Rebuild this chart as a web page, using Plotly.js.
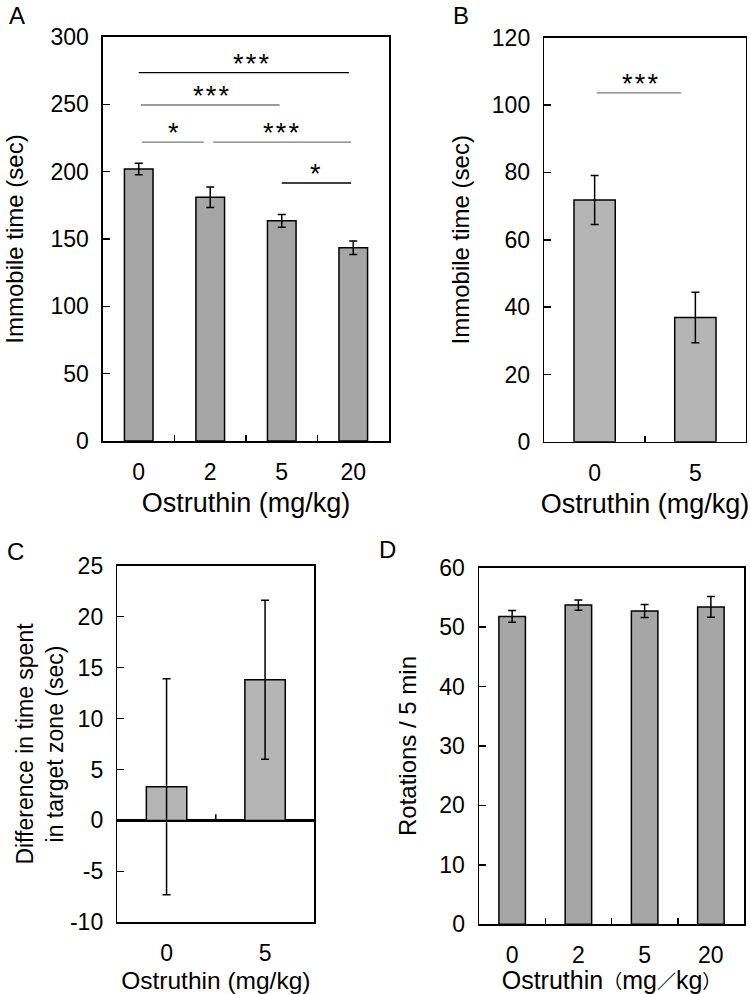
<!DOCTYPE html>
<html>
<head>
<meta charset="utf-8">
<script src="https://cdn.plot.ly/plotly-3.0.1.min.js"></script>
<style>html,body{margin:0;padding:0;background:#fff;}#chart{width:750px;height:994px;}</style>
</head>
<body>
<div id="chart"></div>
<script>
// ---- Data ----
const doseA = ['0', '2', '5', '20'];
const immobileA = [202, 181, 163.5, 143.5];
const errA = [4.2, 7.6, 4.7, 5.0];

const doseB = ['0', '5'];
const immobileB = [71.8, 36.9];
const errB = [7.3, 7.5];

const doseC = ['0', '5'];
const diffC = [3.3, 13.8];
const errC = [10.6, 7.8];

const doseD = ['0', '2', '5', '20'];
const rotationsD = [51.8, 53.7, 52.7, 53.4];
const errD = [1.0, 0.85, 1.1, 1.75];

// y tick labels of panel C (hyphen minus, as printed)
const tickvalsC = [-10, -5, 0, 5, 10, 15, 20, 25];
const ticktextC = ['-10', '-5', '0', '5', '10', '15', '20', '25'];

// significance brackets
const sigA = [
  {x0: 0.0, x1: 2.94, y: 273.5, text: '***', tx: 1.58, color: '#000'},
  {x0: 0.03, x1: 1.97, y: 249.5, text: '***', tx: 1.02, color: '#7a7a7a'},
  {x0: 0.045, x1: 0.91, y: 222, text: '*', tx: 0.48, color: '#7a7a7a'},
  {x0: 1.04, x1: 2.97, y: 222, text: '***', tx: 1.99, color: '#7a7a7a'},
  {x0: 2.0, x1: 2.97, y: 191.6, text: '*', tx: 2.47, color: '#000'}
];
const sigB = [
  {x0: 0.02, x1: 0.86, y: 103.6, text: '***', tx: 0.457, color: '#7a7a7a'}
];

// ---- Styling ----
const FONT = 'Liberation Sans, Arial, Noto Sans CJK JP, sans-serif';
const darkGray = '#a6a6a6';
const lightGray = '#b5b5b5';

function barTrace(x, y, err, color, width, xa, ya) {
  return {
    type: 'bar', x: x, y: y, xaxis: xa, yaxis: ya,
    width: width,
    marker: {color: color, line: {color: '#000', width: 1.5}},
    error_y: {type: 'data', array: err, visible: true, color: '#000', thickness: 1.5, width: 4},
    showlegend: false, hoverinfo: 'x+y'
  };
}

const traces = [
  barTrace(doseA, immobileA, errA, darkGray, 0.4, 'x', 'y'),
  barTrace(doseB, immobileB, errB, lightGray, 0.41, 'x2', 'y2'),
  barTrace(doseC, diffC, errC, lightGray, 0.41, 'x3', 'y3'),
  barTrace(doseD, rotationsD, errD, darkGray, 0.4, 'x4', 'y4')
];

function xAxis(domain, anchor, n, title, tsize, extra) {
  return Object.assign({
    domain: domain, anchor: anchor, type: 'category',
    range: [-0.5, n - 0.5],
    showline: true, linecolor: '#000', linewidth: 1.5, mirror: true,
    ticks: 'inside', tickson: 'boundaries', ticklen: 6, tickwidth: 1.5, tickcolor: '#000',
    showgrid: false, zeroline: false,
    tickfont: {family: FONT, size: 23, color: '#000'},
    ticklabelstandoff: 10,
    title: {text: title, font: {family: FONT, size: tsize, color: '#000'}, standoff: 9},
    fixedrange: true
  }, extra || {});
}
function yAxis(domain, anchor, range, dtick, title, tsize, standoff, extra) {
  return Object.assign({
    domain: domain, anchor: anchor, range: range, dtick: dtick,
    showline: true, linecolor: '#000', linewidth: 1.5, mirror: true,
    ticks: 'inside', ticklen: 7, tickwidth: 1.5, tickcolor: '#000',
    showgrid: false, zeroline: false,
    tickfont: {family: FONT, size: 23, color: '#000'},
    ticklabelstandoff: 8,
    title: {text: title, font: {family: FONT, size: tsize, color: '#000'}, standoff: standoff},
    fixedrange: true
  }, extra || {});
}

const shapes = [];
const annotations = [];
function addSig(list, xa, ya) {
  list.forEach(s => {
    shapes.push({type: 'line', xref: xa, yref: ya, x0: s.x0, x1: s.x1, y0: s.y, y1: s.y,
      line: {color: s.color, width: 1.3}});
    annotations.push({xref: xa, yref: ya, x: s.tx, y: s.y, text: s.text.split('').join('\u200A'),
      showarrow: false, yanchor: 'bottom', yshift: -8,
      font: {family: FONT, size: 27, color: '#000'}});
  });
}
addSig(sigA, 'x', 'y');
addSig(sigB, 'x2', 'y2');

// tick between categories in panel C sits on the zero line
shapes.push({type: 'line', xref: 'x3', yref: 'y3', x0: 0.5, x1: 0.5, y0: 0, y1: 0.6,
  line: {color: '#000', width: 1.5}});

// panel letters
[['A', 0.023, 0.984], ['B', 0.615, 0.984], ['C', 0.02, 0.445], ['D', 0.517, 0.447]].forEach(p => {
  annotations.push({xref: 'paper', yref: 'paper', x: p[1], y: p[2], text: p[0], showarrow: false,
    xanchor: 'center', yanchor: 'middle', font: {family: FONT, size: 24, color: '#000'}});
});

const fw = c => '<span style="font-size:19px">' + c + '</span>';
const titleD = 'Ostruthin' + fw('\uFF08') + 'mg' + fw('\uFF0F') + 'kg' + fw('\uFF09');

const layout = {
  width: 750, height: 994,
  margin: {l: 0, r: 0, t: 0, b: 0},
  paper_bgcolor: '#fff', plot_bgcolor: '#fff',
  showlegend: false, bargap: 0.6,
  font: {family: FONT, color: '#000'},
  xaxis: xAxis([0.1373, 0.5187], 'y', 4, 'Ostruthin (mg/kg)', 27),
  yaxis: yAxis([0.5563, 0.9628], 'x', [0, 300], 50, 'Immobile time (sec)', 24, 20),
  xaxis2: xAxis([0.7257, 0.9943], 'y2', 2, 'Ostruthin (mg/kg)', 27),
  yaxis2: yAxis([0.5555, 0.9621], 'x2', [0, 120], 20, 'Immobile time (sec)', 24, 15),
  xaxis3: xAxis([0.1564, 0.4191], 'y3', 2, 'Ostruthin (mg/kg)', 24.5, {ticks: ''}),
  yaxis3: yAxis([0.0721, 0.4309], 'x3', [-10, 25], 5,
    'Difference in time spent<br>in target zone (sec)', 23, 0,
    {zeroline: true, zerolinecolor: '#000', zerolinewidth: 2.5,
     tickmode: 'array', tickvals: tickvalsC, ticktext: ticktextC}),
  xaxis4: xAxis([0.6387, 0.992], 'y4', 4, titleD, 25),
  yaxis4: yAxis([0.0701, 0.4289], 'x4', [0, 60], 10, 'Rotations / 5 min', 24, 16),
  shapes: shapes,
  annotations: annotations
};

Plotly.newPlot('chart', traces, layout, {displayModeBar: false, staticPlot: true});
</script>
</body>
</html>
